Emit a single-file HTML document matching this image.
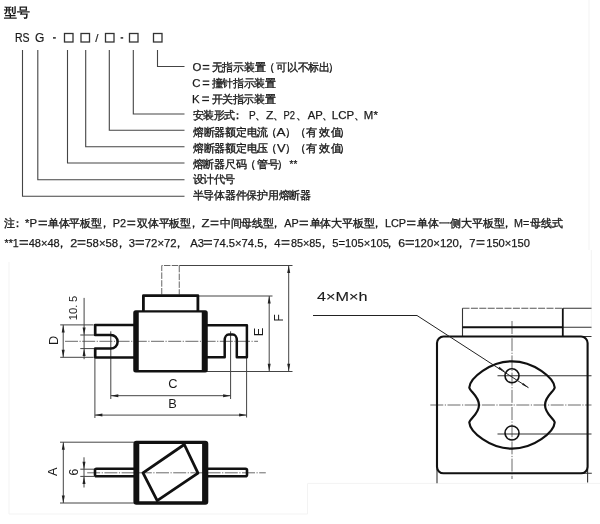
<!DOCTYPE html>
<html><head><meta charset="utf-8">
<style>
html,body{margin:0;padding:0;background:#fff;}
body{width:600px;height:524px;overflow:hidden;position:relative;font-family:"Liberation Sans",sans-serif;color:#222;}
svg{position:absolute;left:0;top:0;will-change:transform;}
</style></head>
<body>
<svg width="600" height="524" viewBox="0 0 600 524">
<path d="M589 0V250M591.3 250V330M9 262V514H307.5V483.4H600" stroke="#f3f3f3" stroke-width="1" fill="none"/>
<g font-family="Liberation Sans, sans-serif" fill="#1a1a1a">
  <text x="4" y="17" font-size="13" font-weight="bold">型号</text>
  <text x="15" y="42" font-size="12" textLength="14.6" lengthAdjust="spacingAndGlyphs" stroke="#1a1a1a" stroke-width="0.2">RS</text>
  <text x="34.9" y="42" font-size="12" stroke="#1a1a1a" stroke-width="0.2">G</text>
  <rect x="53" y="37.2" width="2.8" height="1.4"/>
  <rect x="120.6" y="37.2" width="2.6" height="1.4"/>
  <text x="95.2" y="42" font-size="11.5" stroke="#1a1a1a" stroke-width="0.2">/</text>
</g>
<g fill="none" stroke="#333" stroke-width="1.3">
<rect x="64.5" y="33.5" width="8.5" height="8.5"/>
<rect x="81" y="33.5" width="8.5" height="8.5"/>
<rect x="105.5" y="33.5" width="8.5" height="8.5"/>
<rect x="129.5" y="33.5" width="8.5" height="8.5"/>
<rect x="153.5" y="33.5" width="8.5" height="8.5"/>
</g>
<g fill="none" stroke="#444" stroke-width="1.1">
<path d="M157.5 50V66.5H184.5"/>
<path d="M133.3 50V114H184.5"/>
<path d="M109.3 50V130.3H184.5"/>
<path d="M85.7 50V146.7H184.5"/>
<path d="M67.5 50V163H184.5"/>
<path d="M37.8 50V179.7H184.5"/>
<path d="M22.5 50V196.3H184.5"/>
</g>
<g font-family="Liberation Sans, sans-serif" fill="#1a1a1a">
<text x="192.39" y="71.3" font-size="11.4" stroke="#1a1a1a" stroke-width="0.25">O</text>
<rect x="202.70" y="64.90" width="6.60" height="1.25"/>
<rect x="202.70" y="68.40" width="6.60" height="1.25"/>
<text x="211.56 222.41 233.25 244.10 254.95" y="71.3" font-size="10.65" stroke="#1a1a1a" stroke-width="0.35">无指示装置</text>
<text x="263.94" y="71.3" font-size="10.65" stroke="#1a1a1a" stroke-width="0.35">（</text>
<text x="276.26 286.93 297.61 308.28 318.95" y="71.3" font-size="10.65" stroke="#1a1a1a" stroke-width="0.35">可以不标出</text>
<text x="328.20" y="71.3" font-size="10.65" stroke="#1a1a1a" stroke-width="0.35">）</text>
<text x="192.37" y="86.9" font-size="11.4" stroke="#1a1a1a" stroke-width="0.25">C</text>
<rect x="202.70" y="80.50" width="6.60" height="1.25"/>
<rect x="202.70" y="84.00" width="6.60" height="1.25"/>
<text x="211.56 222.24 232.92 243.59 254.27 264.95" y="86.9" font-size="10.65" stroke="#1a1a1a" stroke-width="0.35">撞针指示装置</text>
<text x="191.89" y="102.8" font-size="11.4" stroke="#1a1a1a" stroke-width="0.25">K</text>
<rect x="202.20" y="96.40" width="6.80" height="1.25"/>
<rect x="202.20" y="99.90" width="6.80" height="1.25"/>
<text x="211.56 222.20 232.84 243.47 254.11 264.75" y="102.8" font-size="10.65" stroke="#1a1a1a" stroke-width="0.35">开关指示装置</text>
<text x="193.06 203.46 213.85 224.25" y="119.3" font-size="10.65" stroke="#1a1a1a" stroke-width="0.35">安装形式</text>
<text x="232.33" y="119.3" font-size="10.65" stroke="#1a1a1a" stroke-width="0.35">：</text>
<text x="249.04" y="119.3" font-size="11.4" stroke="#1a1a1a" stroke-width="0.25" textLength="6.69" lengthAdjust="spacingAndGlyphs">P</text>
<text x="255.14" y="119.3" font-size="10.65" stroke="#1a1a1a" stroke-width="0.35">、</text>
<text x="266.03" y="119.3" font-size="11.4" stroke="#1a1a1a" stroke-width="0.25" textLength="7.48" lengthAdjust="spacingAndGlyphs">Z</text>
<text x="273.14" y="119.3" font-size="10.65" stroke="#1a1a1a" stroke-width="0.35">、</text>
<text x="283.61" y="119.3" font-size="11.4" stroke="#1a1a1a" stroke-width="0.25" textLength="11.44" lengthAdjust="spacingAndGlyphs">P2</text>
<text x="296.14" y="119.3" font-size="10.65" stroke="#1a1a1a" stroke-width="0.35">、</text>
<text x="307.68" y="119.3" font-size="11.4" stroke="#1a1a1a" stroke-width="0.25" textLength="14.99" lengthAdjust="spacingAndGlyphs">AP</text>
<text x="322.14" y="119.3" font-size="10.65" stroke="#1a1a1a" stroke-width="0.35">、</text>
<text x="331.86" y="119.3" font-size="11.4" stroke="#1a1a1a" stroke-width="0.25" textLength="22.29" lengthAdjust="spacingAndGlyphs">LCP</text>
<text x="353.64" y="119.3" font-size="10.65" stroke="#1a1a1a" stroke-width="0.35">、</text>
<text x="363.89" y="119.3" font-size="11.4" stroke="#1a1a1a" stroke-width="0.25" textLength="13.98" lengthAdjust="spacingAndGlyphs">M*</text>
<text x="192.86 203.59 214.32 225.06 235.79 246.52 257.25" y="135.7" font-size="10.65" stroke="#1a1a1a" stroke-width="0.35">熔断器额定电流</text>
<text x="266.14" y="135.7" font-size="10.65" stroke="#1a1a1a" stroke-width="0.35">（</text>
<text x="276.62" y="135.7" font-size="11.4" stroke="#1a1a1a" stroke-width="0.25" textLength="9.06" lengthAdjust="spacingAndGlyphs">A</text>
<text x="284.50" y="135.7" font-size="10.65" stroke="#1a1a1a" stroke-width="0.35">）</text>
<text x="295.14" y="135.7" font-size="10.65" stroke="#1a1a1a" stroke-width="0.35">（</text>
<text x="306.06 318.65 331.25" y="135.7" font-size="10.65" stroke="#1a1a1a" stroke-width="0.35">有效值</text>
<text x="339.00" y="135.7" font-size="10.65" stroke="#1a1a1a" stroke-width="0.35">）</text>
<text x="192.86 203.59 214.32 225.06 235.79 246.52 257.25" y="152.0" font-size="10.65" stroke="#1a1a1a" stroke-width="0.35">熔断器额定电压</text>
<text x="266.14" y="152.0" font-size="10.65" stroke="#1a1a1a" stroke-width="0.35">（</text>
<text x="277.11" y="152.0" font-size="11.4" stroke="#1a1a1a" stroke-width="0.25" textLength="8.59" lengthAdjust="spacingAndGlyphs">V</text>
<text x="284.50" y="152.0" font-size="10.65" stroke="#1a1a1a" stroke-width="0.35">）</text>
<text x="295.14" y="152.0" font-size="10.65" stroke="#1a1a1a" stroke-width="0.35">（</text>
<text x="306.06 318.65 331.25" y="152.0" font-size="10.65" stroke="#1a1a1a" stroke-width="0.35">有效值</text>
<text x="339.00" y="152.0" font-size="10.65" stroke="#1a1a1a" stroke-width="0.35">）</text>
<text x="192.56 203.36 214.16 224.95 235.75" y="168.3" font-size="10.65" stroke="#1a1a1a" stroke-width="0.35">熔断器尺码</text>
<text x="245.14" y="168.3" font-size="10.65" stroke="#1a1a1a" stroke-width="0.35">（</text>
<text x="257.06 268.25" y="168.3" font-size="10.65" stroke="#1a1a1a" stroke-width="0.35">管号</text>
<text x="277.00" y="168.3" font-size="10.65" stroke="#1a1a1a" stroke-width="0.35">）</text>
<text x="289.57" y="168.3" font-size="11.4" stroke="#1a1a1a" stroke-width="0.25" textLength="7.70" lengthAdjust="spacingAndGlyphs">**</text>
<text x="193.06 203.46 213.85 224.25" y="183.2" font-size="10.65" stroke="#1a1a1a" stroke-width="0.35">设计代号</text>
<text x="192.56 203.31 214.06 224.81 235.56 246.31 257.05 267.80 278.55 289.30 300.05" y="199.4" font-size="10.65" stroke="#1a1a1a" stroke-width="0.35">半导体器件保护用熔断器</text>
<text x="3.89" y="227.0" font-size="10.65" stroke="#1a1a1a" stroke-width="0.35">注</text>
<text x="12.33" y="227.0" font-size="10.65" stroke="#1a1a1a" stroke-width="0.35">：</text>
<text x="25.01" y="227.0" font-size="11.4" stroke="#1a1a1a" stroke-width="0.25" textLength="12.00" lengthAdjust="spacingAndGlyphs">*P</text>
<rect x="38.50" y="220.60" width="8.50" height="1.25"/>
<rect x="38.50" y="224.10" width="8.50" height="1.25"/>
<text x="48.26 58.83 69.41 79.98 90.55" y="227.0" font-size="10.65" stroke="#1a1a1a" stroke-width="0.35">单体平板型</text>
<text x="98.52" y="227.0" font-size="10.65" stroke="#1a1a1a" stroke-width="0.35">，</text>
<text x="112.66" y="227.0" font-size="11.4" stroke="#1a1a1a" stroke-width="0.25" textLength="13.28" lengthAdjust="spacingAndGlyphs">P2</text>
<rect x="127.30" y="220.60" width="8.00" height="1.25"/>
<rect x="127.30" y="224.10" width="8.00" height="1.25"/>
<text x="136.86 147.71 158.56 169.40 180.25" y="227.0" font-size="10.65" stroke="#1a1a1a" stroke-width="0.35">双体平板型</text>
<text x="187.52" y="227.0" font-size="10.65" stroke="#1a1a1a" stroke-width="0.35">，</text>
<text x="201.49" y="227.0" font-size="11.4" stroke="#1a1a1a" stroke-width="0.25" textLength="8.05" lengthAdjust="spacingAndGlyphs">Z</text>
<rect x="210.50" y="220.60" width="8.00" height="1.25"/>
<rect x="210.50" y="224.10" width="8.00" height="1.25"/>
<text x="219.86 230.58 241.31 252.03 262.75" y="227.0" font-size="10.65" stroke="#1a1a1a" stroke-width="0.35">中间母线型</text>
<text x="269.82" y="227.0" font-size="10.65" stroke="#1a1a1a" stroke-width="0.35">，</text>
<text x="284.20" y="227.0" font-size="11.4" stroke="#1a1a1a" stroke-width="0.25" textLength="14.45" lengthAdjust="spacingAndGlyphs">AP</text>
<rect x="299.50" y="220.60" width="8.50" height="1.25"/>
<rect x="299.50" y="224.10" width="8.50" height="1.25"/>
<text x="309.56 320.40 331.24 342.07 352.91 363.75" y="227.0" font-size="10.65" stroke="#1a1a1a" stroke-width="0.35">单体大平板型</text>
<text x="371.12" y="227.0" font-size="10.65" stroke="#1a1a1a" stroke-width="0.35">，</text>
<text x="384.92" y="227.0" font-size="11.4" stroke="#1a1a1a" stroke-width="0.25" textLength="21.20" lengthAdjust="spacingAndGlyphs">LCP</text>
<rect x="407.00" y="220.60" width="8.50" height="1.25"/>
<rect x="407.00" y="224.10" width="8.50" height="1.25"/>
<text x="417.36 428.34 439.33 450.31 461.30 472.28 483.27 494.25" y="227.0" font-size="10.65" stroke="#1a1a1a" stroke-width="0.35">单体一侧大平板型</text>
<text x="500.82" y="227.0" font-size="10.65" stroke="#1a1a1a" stroke-width="0.35">，</text>
<text x="513.95" y="227.0" font-size="11.4" stroke="#1a1a1a" stroke-width="0.25" textLength="15.25" lengthAdjust="spacingAndGlyphs">M=</text>
<text x="530.16 541.20 552.25" y="227.0" font-size="10.65" stroke="#1a1a1a" stroke-width="0.35">母线式</text>
<text x="4.54" y="246.5" font-size="11.4" stroke="#1a1a1a" stroke-width="0.25" textLength="14.15" lengthAdjust="spacingAndGlyphs">**1</text>
<rect x="19.50" y="240.10" width="8.50" height="1.25"/>
<rect x="19.50" y="243.60" width="8.50" height="1.25"/>
<text x="28.66" y="246.5" font-size="11.4" stroke="#1a1a1a" stroke-width="0.25" textLength="31.03" lengthAdjust="spacingAndGlyphs">48×48</text>
<text x="56.32" y="246.5" font-size="10.65" stroke="#1a1a1a" stroke-width="0.35">，</text>
<text x="70.31" y="246.5" font-size="11.4" stroke="#1a1a1a" stroke-width="0.25" textLength="6.99" lengthAdjust="spacingAndGlyphs">2</text>
<rect x="77.50" y="240.10" width="8.00" height="1.25"/>
<rect x="77.50" y="243.60" width="8.00" height="1.25"/>
<text x="86.31" y="246.5" font-size="11.4" stroke="#1a1a1a" stroke-width="0.25" textLength="31.89" lengthAdjust="spacingAndGlyphs">58×58</text>
<text x="114.82" y="246.5" font-size="10.65" stroke="#1a1a1a" stroke-width="0.35">，</text>
<text x="128.85" y="246.5" font-size="11.4" stroke="#1a1a1a" stroke-width="0.25" textLength="6.24" lengthAdjust="spacingAndGlyphs">3</text>
<rect x="135.50" y="240.10" width="8.50" height="1.25"/>
<rect x="135.50" y="243.60" width="8.50" height="1.25"/>
<text x="144.80" y="246.5" font-size="11.4" stroke="#1a1a1a" stroke-width="0.25" textLength="31.77" lengthAdjust="spacingAndGlyphs">72×72</text>
<text x="172.82" y="246.5" font-size="10.65" stroke="#1a1a1a" stroke-width="0.35">，</text>
<text x="190.18" y="246.5" font-size="11.4" stroke="#1a1a1a" stroke-width="0.25" textLength="13.88" lengthAdjust="spacingAndGlyphs">A3</text>
<rect x="204.00" y="240.10" width="8.00" height="1.25"/>
<rect x="204.00" y="243.60" width="8.00" height="1.25"/>
<text x="213.30" y="246.5" font-size="11.4" stroke="#1a1a1a" stroke-width="0.25" textLength="50.08" lengthAdjust="spacingAndGlyphs">74.5×74.5</text>
<text x="259.82" y="246.5" font-size="10.65" stroke="#1a1a1a" stroke-width="0.35">，</text>
<text x="274.16" y="246.5" font-size="11.4" stroke="#1a1a1a" stroke-width="0.25" textLength="6.25" lengthAdjust="spacingAndGlyphs">4</text>
<rect x="281.50" y="240.10" width="8.00" height="1.25"/>
<rect x="281.50" y="243.60" width="8.00" height="1.25"/>
<text x="290.95" y="246.5" font-size="11.4" stroke="#1a1a1a" stroke-width="0.25" textLength="30.42" lengthAdjust="spacingAndGlyphs">85×85</text>
<text x="318.32" y="246.5" font-size="10.65" stroke="#1a1a1a" stroke-width="0.35">，</text>
<text x="332.32" y="246.5" font-size="11.4" stroke="#1a1a1a" stroke-width="0.25" textLength="56.55" lengthAdjust="spacingAndGlyphs">5=105×105</text>
<text x="384.32" y="246.5" font-size="10.65" stroke="#1a1a1a" stroke-width="0.35">，</text>
<text x="398.32" y="246.5" font-size="11.4" stroke="#1a1a1a" stroke-width="0.25" textLength="6.84" lengthAdjust="spacingAndGlyphs">6</text>
<rect x="405.50" y="240.10" width="8.50" height="1.25"/>
<rect x="405.50" y="243.60" width="8.50" height="1.25"/>
<text x="414.19" y="246.5" font-size="11.4" stroke="#1a1a1a" stroke-width="0.25" textLength="44.75" lengthAdjust="spacingAndGlyphs">120×120</text>
<text x="454.82" y="246.5" font-size="10.65" stroke="#1a1a1a" stroke-width="0.35">，</text>
<text x="469.30" y="246.5" font-size="11.4" stroke="#1a1a1a" stroke-width="0.25" textLength="6.26" lengthAdjust="spacingAndGlyphs">7</text>
<rect x="476.50" y="240.10" width="8.00" height="1.25"/>
<rect x="476.50" y="243.60" width="8.00" height="1.25"/>
<text x="486.22" y="246.5" font-size="11.4" stroke="#1a1a1a" stroke-width="0.25" textLength="43.70" lengthAdjust="spacingAndGlyphs">150×150</text>
</g>
<path d="M65 341.3H258" stroke="#6a6a6a" stroke-width="1" fill="none" stroke-dasharray="13 1.5 1.2 1.5"/>
<g fill="none" stroke="#444" stroke-width="1">
<path d="M161.75 294.5V265.5H179.25V294.5" stroke-dasharray="6.5 1.3" stroke="#666"/>
<path d="M179.25 265.5H292.5M199 296H272.5M207 371.5H292.5"/>
<path d="M110.8 331.3V399M94.9 358.5V418M230.6 331.3V399M246.6 358V417.5"/>
<path d="M60.2 324.9H93.6M60.2 357.3H93.6M80.3 335H95M80.3 348.6H95"/>
<path d="M84.1 297.9V359.2"/>
</g>
<path d="M288.7 265.5L288.7 371.3" stroke="#444" stroke-width="1" fill="none"/><path d="M288.70 371.30L287.20 363.80L290.20 363.80Z" fill="#222"/><path d="M288.70 265.50L290.20 273.00L287.20 273.00Z" fill="#222"/>
<path d="M269.2 296L269.2 371.3" stroke="#444" stroke-width="1" fill="none"/><path d="M269.20 371.30L267.70 363.80L270.70 363.80Z" fill="#222"/><path d="M269.20 296.00L270.70 303.50L267.70 303.50Z" fill="#222"/>
<path d="M110.8 395.7L230.6 395.7" stroke="#444" stroke-width="1" fill="none"/><path d="M230.60 395.70L223.10 397.20L223.10 394.20Z" fill="#222"/><path d="M110.80 395.70L118.30 394.20L118.30 397.20Z" fill="#222"/>
<path d="M94.9 415.1L246.6 415.1" stroke="#444" stroke-width="1" fill="none"/><path d="M246.60 415.10L239.10 416.60L239.10 413.60Z" fill="#222"/><path d="M94.90 415.10L102.40 413.60L102.40 416.60Z" fill="#222"/>
<path d="M63.2 324.9L63.2 357.3" stroke="#444" stroke-width="1" fill="none"/><path d="M63.20 357.30L61.70 349.80L64.70 349.80Z" fill="#222"/><path d="M63.20 324.90L64.70 332.40L61.70 332.40Z" fill="#222"/>
<path d="M84.10 335.00L82.60 327.50L85.60 327.50Z" fill="#222"/>
<path d="M84.10 348.60L85.60 356.10L82.60 356.10Z" fill="#222"/>
<g fill="none" stroke="#111" stroke-linejoin="round">
<path d="M143.4 311V295.7H197.9V311" stroke-width="2.8"/>
<path d="M134 325.1H95.1V334.9H110.8A6.85 6.85 0 0 1 110.8 348.6H95.1V357.5H134" stroke-width="2.5"/>
<path d="M95.8 325.1V334.9M95.8 348.6V357.5" stroke-width="1"/>
<path d="M206 325.3H246.9V357.2H236.8V340C236.8 337 235 334.5 232.8 334.5H228.7C226.5 334.5 224.7 337 224.7 340V357.2H206" stroke-width="2.5"/>
</g>
<path d="M135.75 310.25H205.25Q207.75 310.25 207.75 312.75V370.0Q207.75 372.5 205.25 372.5H135.75Q133.25 372.5 133.25 370.0V312.75Q133.25 310.25 135.75 310.25ZM138.75 312.5H201.75V370H138.75Z" fill="#111" fill-rule="evenodd"/>
<g font-family="Liberation Sans, sans-serif" fill="#1a1a1a" font-size="12.8"><text x="168.3" y="388.3">C</text><text x="168.3" y="407.5">B</text><text transform="translate(77.4 320.3) rotate(-90)" font-size="11.3" word-spacing="-0.6">10. 5</text><text transform="translate(57.6 345) rotate(-90)">D</text><text transform="translate(263.2 336.3) rotate(-90)">E</text><text transform="translate(282.6 321.5) rotate(-90)" font-size="12">F</text><text transform="translate(56.9 476) rotate(-90)">A</text><text transform="translate(77.7 475.5) rotate(-90)" font-size="12">6</text></g>
<path d="M87.2 472.8H265.8" stroke="#6a6a6a" stroke-width="1" fill="none" stroke-dasharray="13 1.5 1.2 1.5"/>
<g fill="none" stroke="#444" stroke-width="1">
<path d="M60 442.2H134M60 503H134M80.3 469.2H94M80.3 476.4H94"/>
<path d="M84 457.3V487.5"/>
</g>
<path d="M63.3 442.2L63.3 503" stroke="#444" stroke-width="1" fill="none"/><path d="M63.30 503.00L61.80 495.50L64.80 495.50Z" fill="#222"/><path d="M63.30 442.20L64.80 449.70L61.80 449.70Z" fill="#222"/>
<path d="M84.00 469.20L82.50 461.70L85.50 461.70Z" fill="#222"/>
<path d="M84.00 476.40L85.50 483.90L82.50 483.90Z" fill="#222"/>
<g fill="none" stroke="#111" stroke-linejoin="round">
<path d="M143 472.8L184.3 444.5L198 473.1L157.2 500.6Z" stroke-width="2.8"/>
<path d="M134 468.8H96.5Q95 468.8 95 470.3V474.7Q95 476.2 96.5 476.2H134" stroke-width="2.6"/>
<path d="M208 468.8H245.5Q247 468.8 247 470.3V474.7Q247 476.2 245.5 476.2H208" stroke-width="2.6"/>
</g>
<path d="M136.4 440.8H205.3Q208.3 440.8 208.3 443.8V501.7Q208.3 504.7 205.3 504.7H136.4Q133.4 504.7 133.4 501.7V443.8Q133.4 440.8 136.4 440.8ZM139.3 444H202.1V501.2H139.3Z" fill="#111" fill-rule="evenodd"/>
<g fill="none" stroke="#6a6a6a" stroke-width="1" stroke-dasharray="13 1.5 1.2 1.5">
<path d="M512 321V479"/>
<path d="M430.3 405H591.5"/>
</g>
<g fill="none" stroke="#333" stroke-width="1.1">
<path d="M462.5 308.3H562.8" stroke-dasharray="7 1.4" stroke-width="1.1" stroke="#555"/>
<path d="M562.8 308.3H591.5M462.5 308.3V336.5"/>
<path d="M562.8 327.2H591.5M581 336.5H591.5M581 473.3H591.8M587.6 467V482.6M437 467V483.3"/>
<path d="M497.5 375.8H591.5M497.5 434H591.5"/>
</g>
<g fill="none" stroke="#111" stroke-width="2.1">
<rect x="437" y="336.5" width="150.6" height="136.8" rx="6.5"/>
<path d="M462.5 327.2H562.8"/>
<path d="M562.8 308.3V336.5" stroke-width="1.8"/>
<path d="M512 361.3C490.00 361.30 470.00 378.00 469.30 387.50C469.50 391.00 479.00 396.00 479.00 405.00C479.00 414.00 469.50 419.00 469.30 422.50C470.00 432.00 490.00 448.70 512.00 448.70C534.00 448.70 554.00 432.00 554.70 422.50C554.50 419.00 545.00 414.00 545.00 405.00C545.00 396.00 554.50 391.00 554.70 387.50C554.00 378.00 534.00 361.30 512.00 361.30Z" stroke-width="2.2"/>
</g>
<g fill="none" stroke="#111" stroke-width="1.6">
<circle cx="512" cy="375.8" r="7"/><circle cx="512" cy="433" r="7"/>
</g>
<path d="M313 315.5H417L528.5 387.7" stroke="#222" stroke-width="1" fill="none"/>
<path d="M505.50 372.00L498.13 368.66L499.44 366.64Z" fill="#222"/>
<path d="M528.50 387.70L522.03 384.82L523.22 382.97Z" fill="#222"/>
<text transform="translate(317 300.7) scale(1.2 1)" font-family="Liberation Sans, sans-serif" font-size="13.5" fill="#1a1a1a" stroke="#1a1a1a" stroke-width="0.12">4×M×h</text>
</svg>
</body></html>
